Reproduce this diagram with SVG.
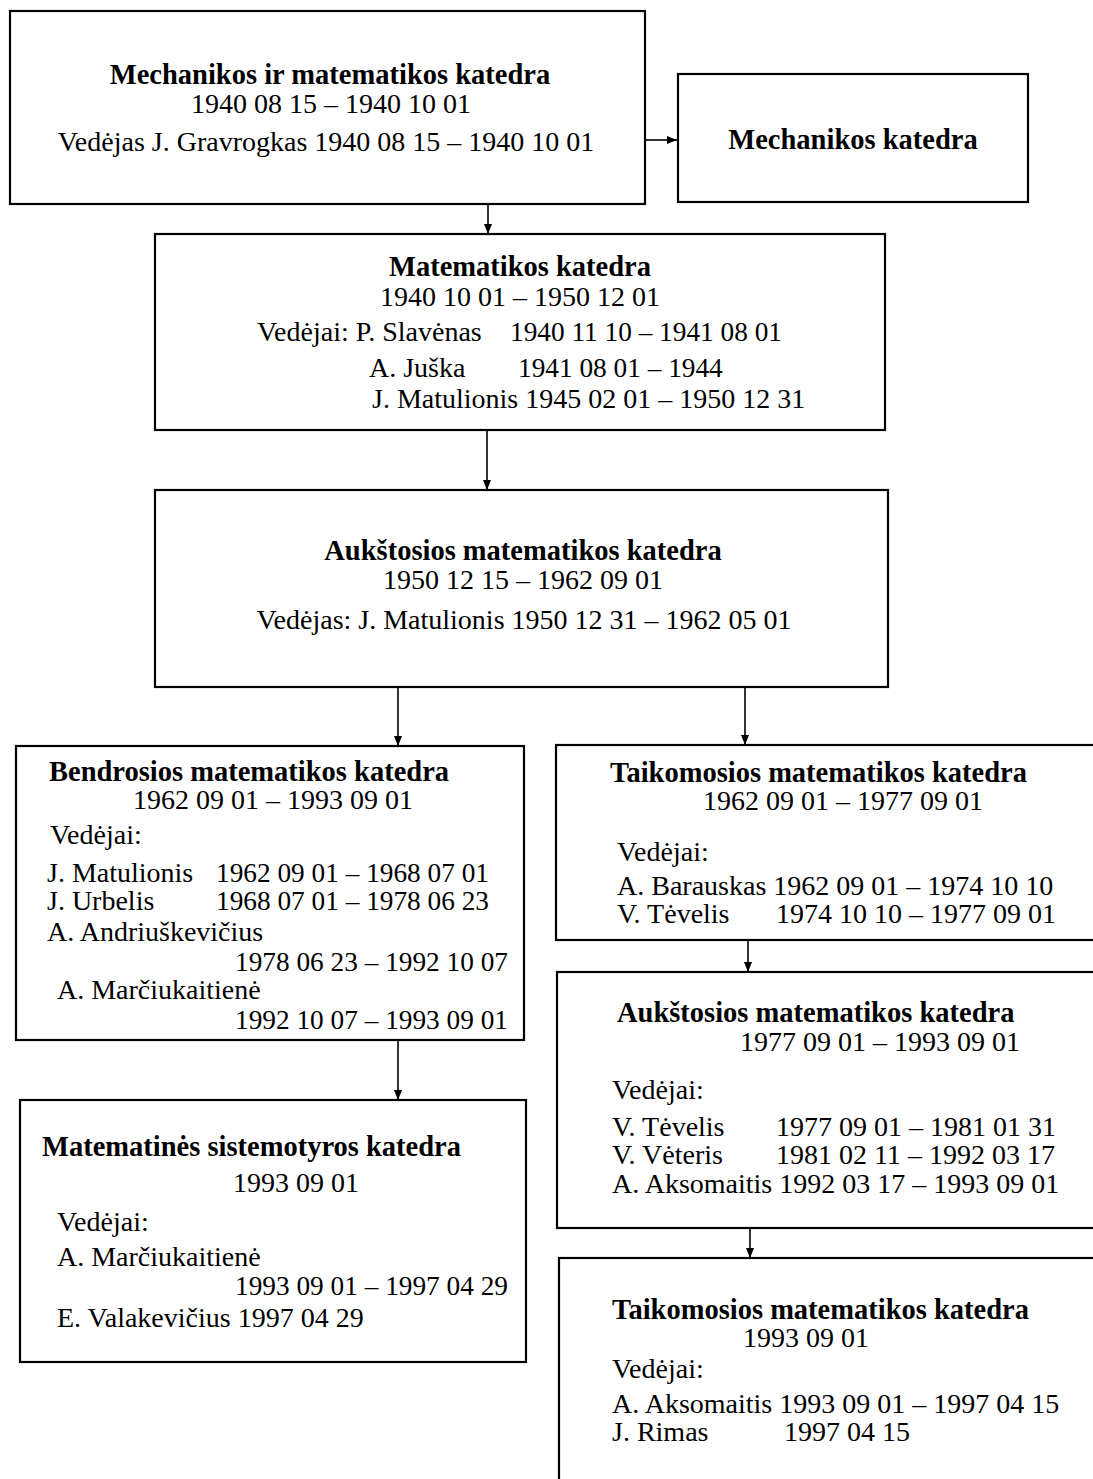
<svg xmlns="http://www.w3.org/2000/svg" width="1093" height="1479" viewBox="0 0 1093 1479">
<style>
.box{fill:#fff;stroke:#000;stroke-width:2.2}
text{font-family:"Liberation Serif","Times New Roman",serif;font-size:28px;fill:#000}
.b{font-weight:bold;font-size:28.5px}
.c{text-anchor:middle}
.d{font-size:27.3px}
.con{stroke:#000;stroke-width:1.6;fill:none;marker-end:url(#ah)}
</style>
<defs>
<marker id="ah" viewBox="0 0 10 8" refX="10" refY="4" markerWidth="10" markerHeight="8" markerUnits="userSpaceOnUse" orient="auto">
<path d="M0,0 L10,4 L0,8 z" fill="#000"/>
</marker>
</defs>
<rect width="1093" height="1479" fill="#fff"/>
<g id="connectors">
<path class="con" d="M645,140 H677"/>
<path class="con" d="M488,205 V234"/>
<path class="con" d="M487,430 V490"/>
<path class="con" d="M398,687 V746"/>
<path class="con" d="M745,687 V745"/>
<path class="con" d="M398,1040 V1100"/>
<path class="con" d="M748,940 V972"/>
<path class="con" d="M750,1228 V1258"/>
</g>
<g id="n1">
<rect class="box" x="10" y="11" width="635" height="193"/>
<text class="b c" x="330" y="84">Mechanikos ir matematikos katedra</text>
<text class="c" x="331" y="113">1940 08 15 – 1940 10 01</text>
<text class="c" x="326" y="151">Vedėjas J. Gravrogkas 1940 08 15 – 1940 10 01</text>
</g>
<g id="n2">
<rect class="box" x="678" y="74" width="350" height="128"/>
<text class="b c" x="853" y="149">Mechanikos katedra</text>
</g>
<g id="n3">
<rect class="box" x="155" y="234" width="730" height="196"/>
<text class="b c" x="520" y="276">Matematikos katedra</text>
<text class="c" x="520" y="306">1940 10 01 – 1950 12 01</text>
<text x="257" y="341">Vedėjai: P. Slavėnas</text>
<text class="d" x="510" y="341">1940 11 10 – 1941 08 01</text>
<text x="369" y="377">A. Juška</text>
<text class="d" x="518" y="377">1941 08 01 – 1944</text>
<text x="372" y="408">J. Matulionis 1945 02 01 – 1950 12 31</text>
</g>
<g id="n4">
<rect class="box" x="155" y="490" width="733" height="197"/>
<text class="b c" x="523" y="560">Aukštosios matematikos katedra</text>
<text class="c" x="523" y="589">1950 12 15 – 1962 09 01</text>
<text class="c" x="524" y="629">Vedėjas: J. Matulionis 1950 12 31 – 1962 05 01</text>
</g>
<g id="n5">
<rect class="box" x="16" y="746" width="508" height="294"/>
<text class="b" x="49" y="781">Bendrosios matematikos katedra</text>
<text class="c" x="273" y="809">1962 09 01 – 1993 09 01</text>
<text x="50" y="844">Vedėjai:</text>
<text x="47" y="882">J. Matulionis</text>
<text class="d" x="216" y="882">1962 09 01 – 1968 07 01</text>
<text x="47" y="910">J. Urbelis</text>
<text class="d" x="216" y="910">1968 07 01 – 1978 06 23</text>
<text x="47" y="941">A. Andriuškevičius</text>
<text class="d" x="235" y="971">1978 06 23 – 1992 10 07</text>
<text x="57" y="999">A. Marčiukaitienė</text>
<text class="d" x="235" y="1029">1992 10 07 – 1993 09 01</text>
</g>
<g id="n6">
<rect class="box" x="20" y="1100" width="506" height="262"/>
<text class="b" x="42" y="1156">Matematinės sistemotyros katedra</text>
<text x="233" y="1192">1993 09 01</text>
<text x="57" y="1231">Vedėjai:</text>
<text x="57" y="1266">A. Marčiukaitienė</text>
<text class="d" x="235" y="1295">1993 09 01 – 1997 04 29</text>
<text x="57" y="1327">E. Valakevičius 1997 04 29</text>
</g>
<g id="n7">
<rect class="box" x="556" y="745" width="550" height="195"/>
<text class="b" x="610" y="782">Taikomosios matematikos katedra</text>
<text x="703" y="810">1962 09 01 – 1977 09 01</text>
<text x="617" y="861">Vedėjai:</text>
<text x="617" y="895">A. Barauskas 1962 09 01 – 1974 10 10</text>
<text x="617" y="923">V. Tėvelis</text>
<text x="776" y="923">1974 10 10 – 1977 09 01</text>
</g>
<g id="n8">
<rect class="box" x="557" y="972" width="550" height="256"/>
<text class="b" x="617" y="1022">Aukštosios matematikos katedra</text>
<text x="740" y="1051">1977 09 01 – 1993 09 01</text>
<text x="612" y="1099">Vedėjai:</text>
<text x="612" y="1136">V. Tėvelis</text>
<text x="776" y="1136">1977 09 01 – 1981 01 31</text>
<text x="612" y="1164">V. Vėteris</text>
<text x="776" y="1164">1981 02 11 – 1992 03 17</text>
<text x="612" y="1193">A. Aksomaitis 1992 03 17 – 1993 09 01</text>
</g>
<g id="n9">
<rect class="box" x="559" y="1258" width="550" height="260"/>
<text class="b" x="612" y="1319">Taikomosios matematikos katedra</text>
<text x="743" y="1347">1993 09 01</text>
<text x="612" y="1378">Vedėjai:</text>
<text x="612" y="1413">A. Aksomaitis 1993 09 01 – 1997 04 15</text>
<text x="612" y="1441">J. Rimas</text>
<text x="784" y="1441">1997 04 15</text>
</g>
</svg>
